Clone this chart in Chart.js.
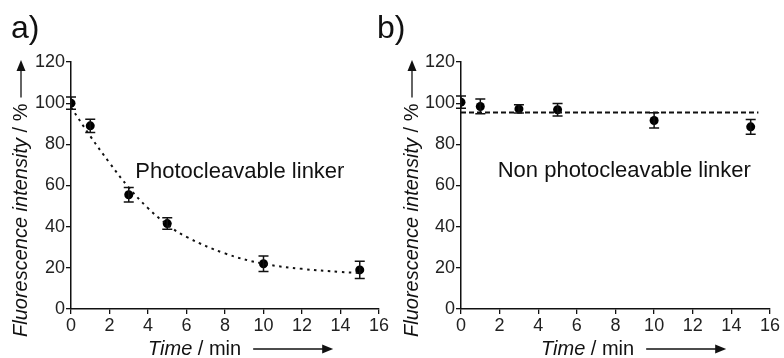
<!DOCTYPE html>
<html>
<head>
<meta charset="utf-8">
<script src="https://cdn.jsdelivr.net/npm/chart.js@4/dist/chart.umd.min.js"></script>
<style>
  body { margin: 0; background: #fff; }
  #wrap { position: relative; width: 784px; height: 358px; overflow: hidden; }
  canvas { position: absolute; top: 0; }
  .panel { position: absolute; font: 32px "Liberation Sans", Arial, sans-serif; line-height: 32px; color: #111; }
</style>
</head>
<body>
<div id="wrap">
  <canvas id="chartA" width="392" height="358" style="left:0"></canvas>
  <canvas id="chartB" width="392" height="358" style="left:392px"></canvas>
  <div class="panel" style="left:11px; top:11px">a)</div>
  <div class="panel" style="left:377px; top:11px">b)</div>
</div>
<script>
"use strict"

const timeMin = [0, 1, 3, 5, 10, 15];
const photoMean = [100, 89, 55.5, 41.5, 22, 19];
const photoErr = [3, 3.2, 3.5, 2.8, 3.8, 4.2];
const nonPhotoMean = [100.5, 98.4, 97.2, 96.8, 91.6, 88.5];
const nonPhotoErr = [3, 3.6, 2, 3, 3.7, 3.6];

// fitted curves, points
const photoFitTime = [0, 1, 2, 3, 4, 5, 6, 8, 10, 12, 14, 15];
const photoFitValue = [98, 84, 71, 59, 49, 41, 35, 27, 22, 19.5, 18, 17.5];
const nonPhotoFitTime = [0, 15.4];
const nonPhotoFitValue = [95.5, 95.5];

const xTicks = [0, 2, 4, 6, 8, 10, 12, 14, 16];
const yTicks = [0, 20, 40, 60, 80, 100, 120];

const yTitleItalic = 'Fluorescence intensity';
const yTitleRest = ' / %';
const xTitleItalic = 'Time';
const xTitleRest = ' / min';

const FONT = '"Liberation Sans", Arial, sans-serif';

function toPoints(xs, ys) {
  return xs.map((x, i) => ({x: x, y: ys[i]}));
}

function arrow(ctx, x1, y1, x2, y2) {
  let ang = Math.atan2(y2 - y1, x2 - x1);
  ctx.beginPath();
  ctx.moveTo(x1, y1);
  ctx.lineTo(x2 - 7 * Math.cos(ang), y2 - 7 * Math.sin(ang));
  ctx.stroke();
  ctx.beginPath();
  ctx.moveTo(x2, y2);
  ctx.lineTo(x2 - 11 * Math.cos(ang) + 4.5 * Math.sin(ang), y2 - 11 * Math.sin(ang) - 4.5 * Math.cos(ang));
  ctx.lineTo(x2 - 11 * Math.cos(ang) - 4.5 * Math.sin(ang), y2 - 11 * Math.sin(ang) + 4.5 * Math.cos(ang));
  ctx.closePath();
  ctx.fill();
}

// error bars + titles + annotation
const decorPlugin = {
  id: 'decor',
  afterDatasetsDraw(chart) {
    let ctx = chart.ctx;
    let xs = chart.scales.x, ys = chart.scales.y;
    let opts = chart.options.plugins.decor;
    ctx.save();
    ctx.strokeStyle = '#111';
    ctx.fillStyle = '#111';
    ctx.lineWidth = 1.5;
    opts.means.forEach((m, i) => {
      let px = xs.getPixelForValue(opts.times[i]);
      let top = ys.getPixelForValue(m + opts.errs[i]);
      let bot = ys.getPixelForValue(m - opts.errs[i]);
      ctx.beginPath();
      ctx.moveTo(px, top); ctx.lineTo(px, bot);
      ctx.moveTo(px - 5, top); ctx.lineTo(px + 5, top);
      ctx.moveTo(px - 5, bot); ctx.lineTo(px + 5, bot);
      ctx.stroke();
    });
    ctx.restore();
  },
  afterDraw(chart) {
    let ctx = chart.ctx;
    let area = chart.chartArea;
    let xs = chart.scales.x, ys = chart.scales.y;
    let opts = chart.options.plugins.decor;
    ctx.save();
    ctx.fillStyle = '#111';
    ctx.strokeStyle = '#111';
    ctx.lineWidth = 1.3;

    // y title, rotated
    ctx.save();
    ctx.translate(opts.yTitleX, area.bottom + 28);
    ctx.rotate(-Math.PI / 2);
    ctx.textBaseline = 'middle';
    ctx.font = 'italic 20px ' + FONT;
    ctx.fillText(yTitleItalic, 0, 0);
    let w1 = ctx.measureText(yTitleItalic).width;
    ctx.font = '20px ' + FONT;
    ctx.fillText(yTitleRest, w1, 0);
    let w2 = ctx.measureText(yTitleRest).width;
    arrow(ctx, w1 + w2 + 6, 0, area.bottom + 28 - area.top + 2, 0);
    ctx.restore();

    // x title
    let tx = area.left + opts.xTitleShift;
    let ty = area.bottom + 46;
    ctx.textBaseline = 'alphabetic';
    ctx.font = 'italic 20px ' + FONT;
    ctx.fillText(xTitleItalic, tx, ty);
    let w3 = ctx.measureText(xTitleItalic).width;
    ctx.font = '20px ' + FONT;
    ctx.fillText(xTitleRest, tx + w3, ty);
    let w4 = ctx.measureText(xTitleRest).width;
    arrow(ctx, tx + w3 + w4 + 12, ty - 6, tx + w3 + w4 + 92, ty - 6);

    // annotation
    ctx.font = '22px ' + FONT;
    ctx.fillText(opts.note, xs.getPixelForValue(opts.noteAt[0]), ys.getPixelForValue(opts.noteAt[1]));
    ctx.restore();
  }
};

function makeChart(id, means, errs, fitT, fitV, dash, tension, note, noteAt, yAxisWidth, rightPad, yTitleX, xTitleShift) {
  let ctx = document.getElementById(id).getContext('2d');
  let tickFont = {family: FONT, size: 18};
  return new Chart(ctx, {
    type: 'scatter',
    data: {
      datasets: [{
        data: toPoints(fitT, fitV),
        showLine: true,
        borderColor: '#111',
        borderWidth: 2,
        borderDash: dash,
        tension: tension,
        pointRadius: 0,
        fill: false
      }, {
        data: toPoints(timeMin, means),
        showLine: false,
        pointRadius: 4.5,
        pointBackgroundColor: '#000',
        pointBorderColor: '#000',
        pointBorderWidth: 0
      }]
    },
    options: {
      responsive: false,
      animation: false,
      devicePixelRatio: 1,
      layout: {padding: {left: 0, top: 62, right: rightPad, bottom: 0}},
      plugins: {
        legend: {display: false},
        tooltip: {enabled: false},
        decor: {times: timeMin, means: means, errs: errs, note: note, noteAt: noteAt, yTitleX: yTitleX, xTitleShift: xTitleShift}
      },
      scales: {
        x: {
          type: 'linear', min: 0, max: 16,
          afterBuildTicks: s => { s.ticks = xTicks.map(v => ({value: v})); },
          afterFit: s => { s.height = 49; },
          ticks: {color: '#222', font: tickFont, padding: 1, maxRotation: 0, autoSkip: false},
          grid: {drawOnChartArea: false, drawTicks: true, tickLength: 5, color: '#111', lineWidth: 1.3},
          border: {color: '#111', width: 1.5}
        },
        y: {
          type: 'linear', min: 0, max: 120,
          afterBuildTicks: s => { s.ticks = yTicks.map(v => ({value: v})); },
          afterFit: s => { s.width = yAxisWidth; },
          ticks: {color: '#222', font: tickFont, padding: 1, autoSkip: false},
          grid: {drawOnChartArea: false, drawTicks: true, tickLength: 5, color: '#111', lineWidth: 1.3},
          border: {color: '#111', width: 1.5}
        }
      }
    },
    plugins: [decorPlugin]
  });
}

makeChart('chartA', photoMean, photoErr, photoFitTime, photoFitValue, [2.5, 4.5], 0.4,
  'Photocleavable linker', [3.34, 63.6], 71, 13, 21, 77);
makeChart('chartB', nonPhotoMean, nonPhotoErr, nonPhotoFitTime, nonPhotoFitValue, [5, 3], 0,
  'Non photocleavable linker', [1.9, 63.9], 69, 14, 20, 80);
</script>
</body>
</html>
